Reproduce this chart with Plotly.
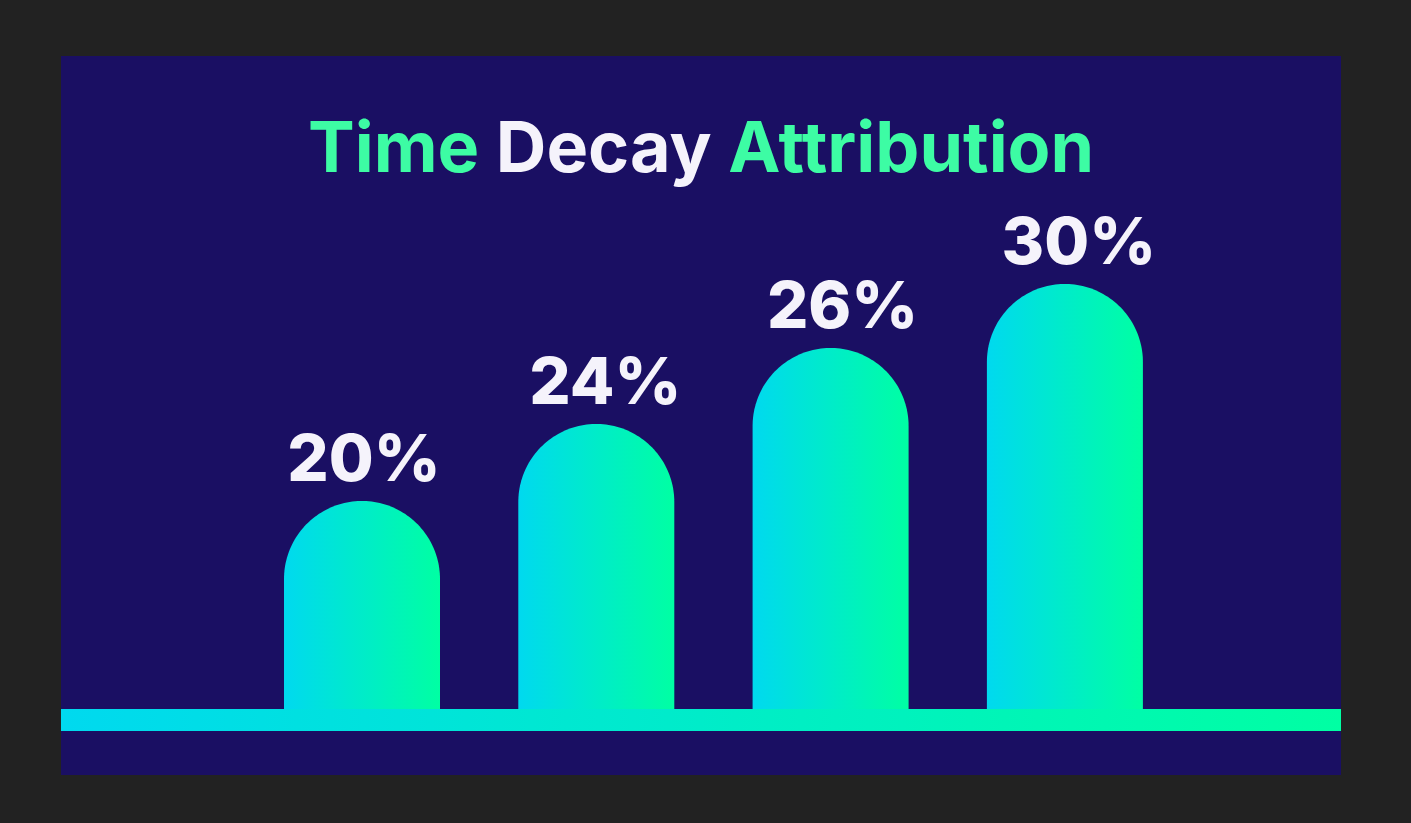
import plotly.graph_objects as go
import numpy as np

# values printed on the bars and the bar heights (not proportional in the original)
channels = ["Touch 1", "Touch 2", "Touch 3", "Touch 4"]
labels = ["20%", "24%", "26%", "30%"]
bar_heights = [208, 285, 361, 425]
bar_x = [0, 1, 2, 3]

BG = "#222222"
PANEL = "#1a0f63"
CYAN = "#00d9ef"
GREEN = "#00ffa3"
WHITE = "#f5f3fb"
TITLE_GREEN = "#3dfca4"
FONT = "Inter"

BAR_W = 156 / 234.3   # bar width in x units, bars sit 234.3 px apart
X_PX = 234.3
LABEL_SHIFT = [2, 9, 12, 14]  # labels are not quite centred over the bars in the original, px
LABEL_LIFT = 4


def bar_outline(x, h):
    # flat bottom, straight sides and a half round top, radius is half the bar width in px
    r = BAR_W * X_PX / 2
    t = np.linspace(np.pi, 0, 90)
    xs = x + np.cos(t) * BAR_W / 2
    ys = h - r + np.sin(t) * r
    xs = [x - BAR_W / 2] + list(xs) + [x + BAR_W / 2, x - BAR_W / 2]
    ys = [0] + list(ys) + [0, 0]
    return xs, ys


grad = dict(type="horizontal", colorscale=[[0, CYAN], [1, GREEN]])

fig = go.Figure()

# strip under the bars
x_left = -(362 - 61) / X_PX
x_right = (1341 - 362) / X_PX
fig.add_trace(go.Scatter(x=[x_left, x_right, x_right, x_left, x_left], y=[0, 0, -22, -22, 0],
                         mode="lines", line=dict(width=0), fill="toself", fillgradient=grad,
                         hoverinfo="skip", showlegend=False))

for i, name in enumerate(channels):
    xs, ys = bar_outline(bar_x[i], bar_heights[i])
    fig.add_trace(go.Scatter(x=xs, y=ys, mode="lines", line=dict(width=0, simplify=False), fill="toself",
                             fillgradient=grad, name=name, hoverinfo="skip", showlegend=False))

label_x = [bar_x[i] + LABEL_SHIFT[i] / X_PX for i in range(4)]
label_y = [h + LABEL_LIFT for h in bar_heights]
fig.add_trace(go.Scatter(x=label_x, y=label_y, mode="text", text=labels, textposition="top center",
                         textfont=dict(family=FONT, size=65, color=WHITE, weight=800),
                         hoverinfo="skip", showlegend=False))

title = (f"<span style='color:{TITLE_GREEN}'>Time</span> "
         f"<span style='color:{WHITE}'>Decay</span> "
         f"<span style='color:{TITLE_GREEN}'>Attribution</span>")
fig.add_annotation(text=title, xref="paper", yref="paper", x=0.5, y=0.874, xanchor="center", yanchor="middle",
                   showarrow=False, font=dict(family=FONT, size=70, weight=700))

fig.update_layout(width=1411, height=823, margin=dict(l=61, r=70, t=56, b=48),
                  paper_bgcolor=BG, plot_bgcolor=PANEL)
fig.update_xaxes(range=[x_left, x_right], visible=False)
fig.update_yaxes(range=[-66, 653], visible=False)

fig.write_html("out.html", config=dict(displayModeBar=False),
               post_script="document.body.style.margin='0';document.body.style.background='#222222';")
